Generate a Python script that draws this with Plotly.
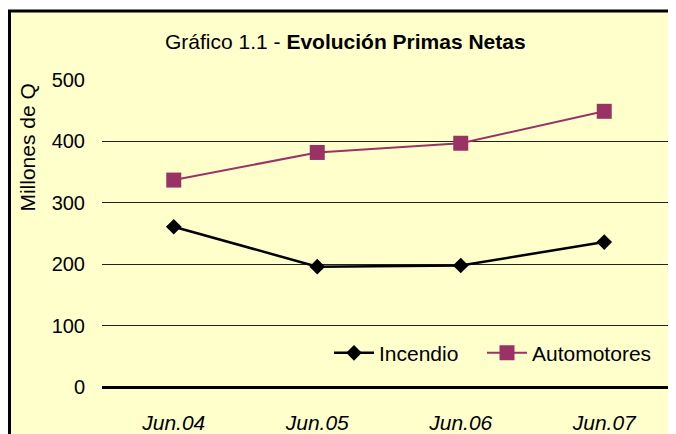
import plotly.graph_objects as go

categories = ["Jun.04", "Jun.05", "Jun.06", "Jun.07"]
incendio = [261, 196, 198, 236]
automotores = [337, 382, 397, 449]
y_ticks = [0, 100, 200, 300, 400, 500]

W, H = 676, 434
OFF = 8  # page body margin
L, R, T, B = 94, 8, 72, 53
pw, ph = W - L - R, H - T - B

def px_x(p):
    return (p - OFF - L) / pw

def px_y(p):
    return (H - B - (p - OFF)) / ph

fig = go.Figure()
fig.add_trace(go.Scatter(
    x=categories, y=incendio, name="Incendio", mode="lines+markers",
    line=dict(color="black", width=2.5),
    marker=dict(symbol="diamond", size=12, color="black"),
    legend="legend",
))
fig.add_trace(go.Scatter(
    x=categories, y=automotores, name="Automotores", mode="lines+markers",
    line=dict(color="#993366", width=2),
    marker=dict(symbol="square", size=15, color="#993366"),
    legend="legend2",
))

fig.add_shape(type="rect", xref="paper", yref="paper",
              x0=px_x(9.5), x1=px_x(720), y0=px_y(10.5), y1=px_y(480),
              line=dict(color="black", width=3), fillcolor="#FFFFCC", layer="below")

fig.add_annotation(text="Gráfico 1.1 - <b>Evolución Primas Netas</b>",
                   xref="paper", yref="paper", x=px_x(345), y=px_y(41),
                   showarrow=False, font=dict(size=21, color="black"),
                   xanchor="center", yanchor="middle")
fig.add_annotation(text="Millones de Q", textangle=-90,
                   xref="paper", yref="paper", x=px_x(28), y=px_y(148),
                   showarrow=False, font=dict(size=21, color="black"),
                   xanchor="center", yanchor="middle")

legend_common = dict(orientation="h", xanchor="left", yanchor="middle",
                     bgcolor="rgba(0,0,0,0)", font=dict(size=21), itemwidth=40)

fig.update_layout(
    width=W, height=H,
    margin=dict(l=L, r=R, t=T, b=B),
    paper_bgcolor="white",
    plot_bgcolor="rgba(0,0,0,0)",
    font=dict(family="Liberation Sans, Arial, sans-serif", size=20, color="black"),
    showlegend=True,
    legend=dict(x=px_x(329), y=px_y(355), **legend_common),
    legend2=dict(x=px_x(482), y=px_y(355), **legend_common),
    xaxis=dict(type="category", range=[-0.5, 3.5], showgrid=False, zeroline=False,
               showline=False, ticks="", tickfont=dict(size=21, style="italic"),
               ticklabelstandoff=21, tickangle=0),
    yaxis=dict(range=[0, 500], tickvals=y_ticks, showgrid=True, gridcolor="#222222",
               gridwidth=1, zeroline=True, zerolinecolor="black", zerolinewidth=2.5,
               showline=False, ticks="", tickfont=dict(size=20), ticklabelstandoff=16),
)

fig.write_html("out.html")
